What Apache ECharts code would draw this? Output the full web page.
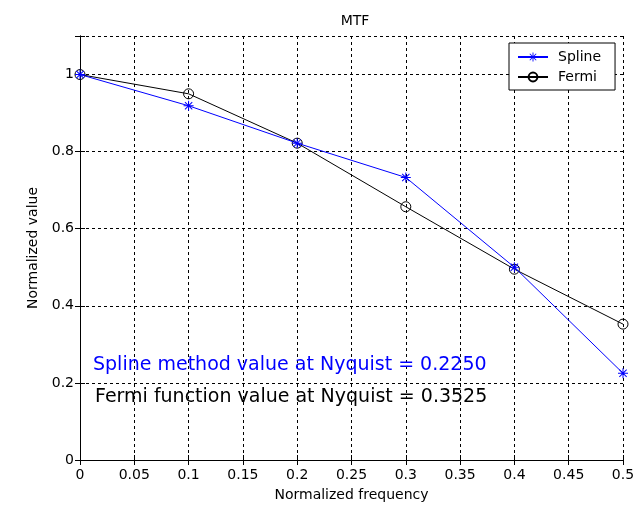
<!DOCTYPE html>
<html>
<head>
<meta charset="utf-8">
<script src="https://cdn.jsdelivr.net/npm/echarts@6/dist/echarts.min.js"></script>
<style>
html,body{margin:0;padding:0;background:#fff;}
#chart{width:642px;height:507px;}
</style>
</head>
<body>
<div id="chart"></div>
<script>
var frequencies = [0, 0.1, 0.2, 0.3, 0.4, 0.5];
var splineValues = [1.0, 0.919, 0.822, 0.733, 0.500, 0.2250];
var fermiValues = [1.0, 0.950, 0.822, 0.657, 0.495, 0.3525];
var splineNyquist = '0.2250';
var fermiNyquist = '0.3525';

var FONT = 'DejaVu Sans';
var starPath = 'path://M0,9L20,9L20,11L0,11Z M9,0L11,0L11,20L9,20Z M2,3.4L3.4,2L18,16.6L16.6,18Z M16.6,2L18,3.4L3.4,18L2,16.6Z';

function pairs(xs, ys) { return xs.map(function (x, i) { return [x, ys[i]]; }); }

var chart = echarts.init(document.getElementById('chart'), null, {renderer: 'canvas'});
var axisLine = {show: true, lineStyle: {color: '#000', width: 1}};
var tick = {show: true, inside: true, length: 5, lineStyle: {color: '#000'}};
var grid = {show: true, lineStyle: {color: '#000', type: [3, 3], width: 1}};

chart.setOption({
  animation: false,
  backgroundColor: '#fff',
  title: {
    text: 'MTF', left: 350, top: 9, textAlign: 'center',
    textStyle: {fontFamily: FONT, fontSize: 14, fontWeight: 'normal', color: '#000'}
  },
  grid: {left: 80, right: 19, top: 36, bottom: 44, containLabel: false},
  legend: {
    orient: 'vertical', left: 509, top: 43,
    padding: [7, 14, 6, 8], itemGap: 6, itemWidth: 30, itemHeight: 11,
    backgroundColor: '#fff', borderColor: '#000', borderWidth: 1, borderRadius: 0,
    textStyle: {fontFamily: FONT, fontSize: 14, color: '#000', padding: [0, 0, 0, 5]},
    data: ['Spline', 'Fermi']
  },
  xAxis: [{
    type: 'value', min: 0, max: 0.5, interval: 0.05,
    name: 'Normalized frequency', nameLocation: 'middle', nameGap: 28,
    nameTextStyle: {fontFamily: FONT, fontSize: 14, color: '#000'},
    axisLine: axisLine, axisTick: tick, splitLine: grid,
    axisLabel: {fontFamily: FONT, fontSize: 14, color: '#000', margin: 8}
  }, {
    type: 'value', min: 0, max: 0.5, interval: 0.05, position: 'top',
    axisLine: axisLine, axisTick: tick, splitLine: {show: false}, axisLabel: {show: false}
  }],
  yAxis: [{
    type: 'value', min: 0, max: 1.1, interval: 0.2,
    name: 'Normalized value', nameLocation: 'middle', nameGap: 40,
    nameTextStyle: {fontFamily: FONT, fontSize: 14, color: '#000'},
    axisLine: axisLine, axisTick: tick, splitLine: grid,
    axisLabel: {fontFamily: FONT, fontSize: 14, color: '#000', margin: 6,
      formatter: function (v) { return v > 1.05 ? '' : String(Math.round(v * 10) / 10); }}
  }, {
    type: 'value', min: 0, max: 1.1, interval: 0.2, position: 'right',
    axisLine: axisLine, axisTick: tick, splitLine: {show: false}, axisLabel: {show: false}
  }],
  series: [{
    name: 'Spline', type: 'line', z: 4,
    data: pairs(frequencies, splineValues),
    symbol: starPath, symbolSize: 10, showAllSymbol: true,
    lineStyle: {color: '#0000ff', width: 1},
    itemStyle: {color: '#0000ff'}
  }, {
    name: 'Fermi', type: 'line', z: 3,
    data: pairs(frequencies, fermiValues),
    symbol: 'circle', symbolSize: 10, showAllSymbol: true,
    lineStyle: {color: '#000', width: 1},
    itemStyle: {color: 'rgba(0,0,0,0)', borderColor: '#000', borderWidth: 1}
  }],
  graphic: [{
    type: 'text', left: 93, top: 356, z: 10,
    style: {text: 'Spline method value at Nyquist = ' + splineNyquist, font: '19px "DejaVu Sans"', fill: '#0000ff'}
  }, {
    type: 'text', left: 95, top: 388, z: 10,
    style: {text: 'Fermi function value at Nyquist = ' + fermiNyquist, font: '19px "DejaVu Sans"', fill: '#000'}
  }]
});
</script>
</body>
</html>
